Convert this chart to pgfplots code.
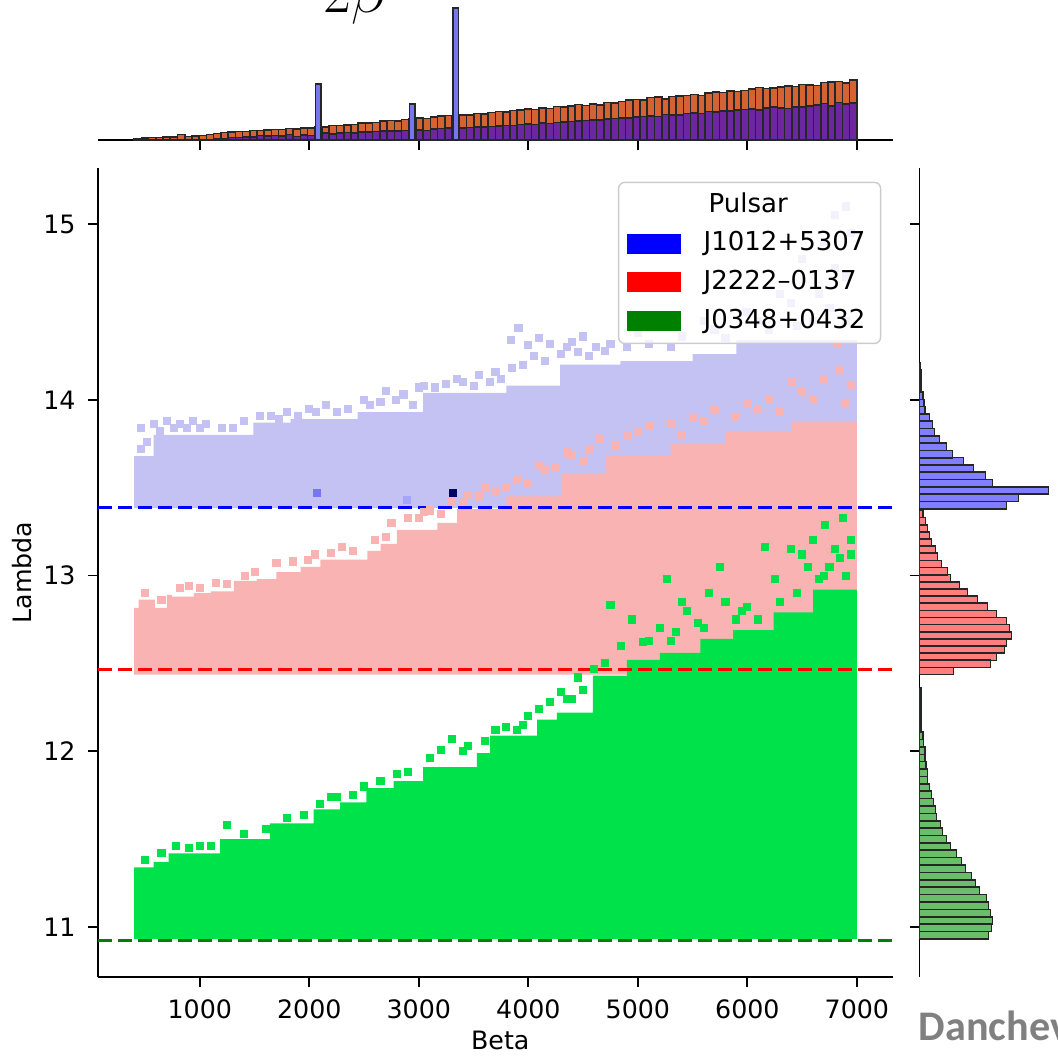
\documentclass[border=0pt]{standalone}
\usepackage{pgfplots}
\pgfplotsset{compat=1.18}
\usepackage{pgfplotstable}
\usepackage{fontspec}
\setmainfont{DejaVu Sans}
\newfontfamily\carlito{Carlito}
\definecolor{lav}{RGB}{196,194,242}
\definecolor{pinkr}{RGB}{249,179,179}
\definecolor{grn}{RGB}{0,226,74}
\definecolor{horange}{RGB}{212,98,50}
\definecolor{hpurple}{RGB}{108,38,160}
\definecolor{hblue}{RGB}{118,118,240}
\definecolor{rblue}{RGB}{127,127,255}
\definecolor{rred}{RGB}{255,127,127}
\definecolor{rgreen}{RGB}{106,190,106}
\definecolor{dgreen}{RGB}{0,128,0}

\pgfplotstableread{
x o p
433 1.5 0
499 2.2 0
565 2.5 0
631 2.5 0
697 3.0 0
763 3.2 0
829 5.5 0
895 3.5 0
961 3.8 0
1027 4.4 0
1093 5.5 0
1159 6.5 1.0
1225 7.6 1.5
1291 8.2 2.5
1357 8.4 2.6
1423 8.5 2.8
1489 9.3 3.0
1555 9.3 4.5
1621 10.0 4.0
1687 10.4 4.5
1753 10.6 4.0
1819 11.5 5.5
1885 11.0 3.5
1951 11.9 5.0
2017 12.2 4.5
2083 13.5 6.0
2149 13.0 7.0
2215 14.5 6.0
2281 14.4 6.8
2347 15.0 7.5
2413 15.6 7.0
2479 16.8 8.0
2545 17.0 8.0
2611 17.5 8.5
2677 18.8 9.0
2743 19.3 9.0
2809 19.0 9.2
2875 20.3 9.5
2941 21.0 10.0
3007 22.0 10.0
3073 21.5 9.5
3139 22.8 11.0
3205 23.8 11.5
3271 24.5 12.0
3337 23.0 11.0
3403 25.0 12.0
3469 25.0 12.5
3535 26.3 13.0
3601 26.0 13.0
3667 27.5 13.5
3733 28.4 14.0
3799 28.0 14.5
3865 29.5 14.5
3931 30.0 15.5
3997 31.0 16.0
4063 30.5 15.5
4129 32.0 17.0
4195 31.5 16.5
4261 33.5 17.5
4327 33.0 18.0
4393 34.0 18.5
4459 35.5 19.0
4525 34.5 19.5
4591 36.0 20.0
4657 35.0 20.0
4723 37.5 21.0
4789 37.0 21.5
4855 38.5 22.0
4921 39.8 22.0
4987 40.5 23.0
5053 40.0 23.5
5119 42.5 24.0
5185 43.0 23.5
5251 41.0 25.5
5317 43.5 25.0
5383 44.0 25.0
5449 44.5 26.5
5515 45.5 27.0
5581 44.5 26.5
5647 47.0 28.5
5713 48.0 28.0
5779 47.5 29.0
5845 49.0 29.0
5911 48.5 30.0
5977 49.5 30.5
6043 51.0 31.0
6109 52.5 30.0
6175 51.5 32.0
6241 52.0 33.0
6307 53.0 32.0
6373 54.0 31.5
6439 53.5 33.0
6505 55.5 33.0
6571 55.0 34.0
6637 54.5 35.0
6703 57.5 36.5
6769 58.0 34.0
6835 58.5 37.5
6901 57.0 36.0
6967 60.0 37.0
}\tophist

\begin{document}
\begin{tikzpicture}[x=1mm,y=1mm]
\useasboundingbox (0,0) rectangle (105.7,106);

% ---------------- main joint axis ----------------
\begin{axis}[
  at={(9.8mm,8.3mm)}, anchor=south west, scale only axis,
  width=79.5mm, height=80.9mm,
  xmin=70, xmax=7330, ymin=10.716, ymax=15.319,
  axis x line*=bottom, axis y line*=left,
  axis line style={-, line width=0.5pt},
  tick align=outside, major tick length=1mm,
  tick style={line width=0.5pt, black},
  xtick={1000,2000,...,7000}, ytick={11,12,...,15},
  font=\fontsize{7.2}{8.5}\selectfont,
  /pgf/number format/assume math mode=true,
  /pgf/number format/1000 sep={},
  xlabel={Beta}, ylabel={Lambda},
  xlabel style={at={(axis description cs:0.506,-0.078)}, anchor=center},
  ylabel style={at={(axis description cs:-0.0956,0.5)}, anchor=center},
  legend style={at={(0.654,0.983)}, anchor=north west, draw=black!20,
    rounded corners=0.6mm, fill=white, fill opacity=0.8, text opacity=1,
    font=\fontsize{7.4}{8.5}\selectfont, inner xsep=0.8mm, inner ysep=0.3mm,
    row sep=0pt, /tikz/column sep=1.6mm, cells={anchor=west}},
  legend image code/.code={\fill[#1, draw=none, sharp corners, fill opacity=1] (0mm,-1mm) rectangle (5.4mm,1mm);},
]
% lavender region (J1012+5307)
\addplot[const plot, fill=lav, draw=none, forget plot] coordinates {
 (400,13.385) (400,13.68) (577,13.80) (1490,13.87) (1830,13.89) (2440,13.93)
 (3040,14.04) (3800,14.08) (4290,14.2) (4840,14.22) (5500,14.26) (5900,14.34)
 (7000,14.34) (7000,13.385)};
\addplot[only marks, mark=square*, mark size=0.95pt, color=lav, forget plot] coordinates {
 (460,13.84) (580,13.86) (640,13.82) (700,13.88) (760,13.84) (820,13.86) (880,13.84)
 (940,13.88) (1000,13.84) (1060,13.86) (1550,13.91) (1650,13.91) (1720,13.89)
 (2000,13.95) (2060,13.93) (2150,13.97) (2550,13.97) (2790,14.0) (2860,14.03)
 (2950,13.97) (3150,14.07) (3250,14.09) (3400,14.1) (3500,14.08) (3650,14.1)
 (3750,14.12) (3910,14.41) (3840,14.34) (3950,14.2) (4050,14.25) (4150,14.22)
 (4200,14.32) (4350,14.3) (4450,14.27) (4500,14.36) (4620,14.3) (4700,14.28)
 (5000,14.38) (5600,14.45) (6000,14.5) (6300,14.6) (6500,14.8) (6700,14.9)
 (6800,15.05) (6900,15.1) (6900,14.7) (6600,14.45)
 (460,13.72) (520,13.76) (1200,13.84) (1300,13.84) (1400,13.88) (1800,13.93)
 (1900,13.91) (2250,13.93) (2350,13.95) (2500,14.0) (2650,13.99) (2700,14.05)
 (3000,14.07) (3050,14.08) (3350,14.12) (3550,14.14) (3700,14.16) (3850,14.18)
 (4000,14.31) (4100,14.35) (4300,14.26) (4400,14.33) (4550,14.25) (4750,14.32)
 (4900,14.3) (5100,14.32) (5300,14.3) (5400,14.36) (5700,14.4) (5800,14.35)
 (6100,14.45) (6200,14.4) (6400,14.55) (6450,14.42) (6650,14.6) (6750,14.52)
 (6900,14.45) (6950,14.95) (6800,14.75)};
% pink region (J2222-0137)
\addplot[const plot, fill=pinkr, draw=none, forget plot] coordinates {
 (400,12.437) (400,12.816) (440,12.863) (590,12.816) (700,12.89) (745,12.88)
 (945,12.90) (1100,12.91) (1310,12.97) (1520,12.98) (1700,13.02) (1920,13.05)
 (2100,13.09) (2530,13.14) (2650,13.18) (2800,13.26) (3170,13.30) (3350,13.38)
 (3800,13.45) (4300,13.58) (4700,13.68) (5300,13.75) (5800,13.82) (6400,13.88)
 (7000,13.88) (7000,12.437)};
\addplot[only marks, mark=square*, mark size=0.95pt, color=pinkr, forget plot] coordinates {
 (820,12.93) (1000,12.93) (1250,12.95) (1410,13.0) (1700,13.07) (1990,13.09)
 (2200,13.13) (2400,13.14) (2700,13.22) (2900,13.33) (3000,13.33) (3100,13.37)
 (3200,13.35) (3400,13.42) (3450,13.46) (3600,13.5) (3700,13.48) (3900,13.55)
 (4000,13.52) (4150,13.6) (4250,13.62) (4400,13.68) (4550,13.72) (4650,13.78)
 (4900,13.8) (5100,13.85) (5300,13.86) (5500,13.9) (5700,13.95) (6000,13.98)
 (6200,14.0) (6500,14.05) (6700,14.12) (6850,14.17) (6950,14.08) (6820,14.32)
 (500,12.9) (650,12.86) (900,12.94) (1150,12.96) (1500,13.02) (1850,13.08)
 (2050,13.12) (2300,13.16) (2600,13.2) (2750,13.3) (3050,13.36) (3300,13.42)
 (3550,13.45) (3800,13.5) (4100,13.63) (4350,13.7) (4500,13.65) (4800,13.74)
 (5000,13.82) (5400,13.8) (5600,13.88) (5900,13.9) (6100,13.95) (6300,13.93)
 (6600,14.0) (6900,13.98) (6400,14.1)};
% green region (J0348+0432)
\addplot[const plot, fill=grn, draw=none, forget plot] coordinates {
 (400,10.933) (400,11.34) (577,11.37) (715,11.42) (1185,11.50) (1640,11.59)
 (2040,11.67) (2280,11.71) (2520,11.79) (2770,11.83) (3040,11.91) (3530,11.99)
 (3650,12.09) (4080,12.18) (4260,12.22) (4590,12.43) (4900,12.52) (5200,12.56)
 (5570,12.64) (5870,12.69) (6240,12.79) (6600,12.92) (7000,12.92) (7000,10.933)};
\addplot[only marks, mark=square*, mark size=0.95pt, color=grn, forget plot] coordinates {
 (780,11.46) (1000,11.46) (1250,11.58) (2100,11.70) (2250,11.74) (2400,11.75)
 (2650,11.83) (2800,11.87) (3100,11.96) (3200,12.01) (3300,12.07) (3450,12.03)
 (3600,12.06) (3800,12.14) (3950,12.15) (4100,12.24) (4200,12.28) (4350,12.3)
 (4500,12.35) (4700,12.5) (4750,12.83) (4850,12.6) (4950,12.75) (5100,12.63)
 (5200,12.7) (5270,12.98) (5400,12.85) (5450,12.8) (5550,12.73) (5650,12.9)
 (5750,13.05) (5800,12.85) (5950,12.8) (6100,12.75) (6160,13.16) (6250,12.98)
 (6400,13.15) (6500,13.12) (6550,13.05) (6700,13.0) (6710,13.29) (6800,13.15)
 (6850,13.1) (6950,13.12) (6870,13.33) (6600,13.2)
 (500,11.38) (650,11.42) (900,11.45) (1100,11.46) (1400,11.53) (1600,11.56)
 (1800,11.62) (1950,11.64) (2200,11.74) (2500,11.8) (2900,11.88) (3400,12.0)
 (3700,12.12) (3900,12.12) (4000,12.2) (4300,12.34) (4400,12.3) (4450,12.42)
 (4600,12.47) (5050,12.62) (5300,12.63) (5350,12.68) (5600,12.7) (5900,12.75)
 (6000,12.82) (6300,12.85) (6450,12.9) (6650,12.98) (6750,13.05) (6900,13.0)
 (6950,13.2)};
% a few darker cells
\addplot[only marks, mark=square*, mark size=0.95pt, color=hblue, forget plot] coordinates {(2070,13.47)};
\addplot[only marks, mark=square*, mark size=0.95pt, color=rblue!70, forget plot] coordinates {(2890,13.43)};
\addplot[only marks, mark=square*, mark size=0.95pt, color=blue!40!black, forget plot] coordinates {(3310,13.47)};
% reference lines
\addplot[blue, line width=0.85pt, dash pattern=on 1.4mm off 0.6mm, forget plot] coordinates {(70,13.385) (7330,13.385)};
\addplot[red, line width=0.85pt, dash pattern=on 1.4mm off 0.6mm, forget plot] coordinates {(70,12.465) (7330,12.465)};
\addplot[dgreen, line width=0.85pt, dash pattern=on 1.4mm off 0.6mm, forget plot] coordinates {(70,10.925) (7330,10.925)};
% legend
\addlegendimage{empty legend}
\addlegendentry{\hspace{0.5mm}Pulsar}
\addlegendimage{fill=blue}
\addlegendentry{J1012+5307}
\addlegendimage{fill=red}
\addlegendentry{J2222--0137}
\addlegendimage{fill=dgreen}
\addlegendentry{J0348+0432}
\end{axis}

% ---------------- top marginal histogram ----------------
\begin{axis}[
  at={(9.8mm,92mm)}, anchor=south west, scale only axis,
  width=79.5mm, height=13.86mm,
  xmin=70, xmax=7330, ymin=0, ymax=138.6,
  axis x line*=bottom, hide y axis,
  axis line style={-, line width=0.5pt},
  tick align=outside, major tick length=1mm,
  tick style={line width=0.5pt, black},
  xtick={1000,2000,...,7000}, xticklabels={},
  clip=false,
]
\addplot[ybar, bar width=66, bar shift=0pt, fill=horange, draw=black!85, line width=0.45pt] table[x=x, y=o] {\tophist};
\addplot[ybar, bar width=66, bar shift=0pt, fill=hpurple, draw=black!85, line width=0.45pt] table[x=x, y=p] {\tophist};
\addplot[ybar, bar width=50, bar shift=0pt, fill=hblue, draw=black!85, line width=0.45pt] coordinates {(2083,56) (2941,36) (3337,132)};
\end{axis}

% ---------------- right marginal histogram ----------------
\begin{axis}[
  at={(91.95mm,8.3mm)}, anchor=south west, scale only axis,
  width=15.6mm, height=80.9mm,
  xmin=0, xmax=156, ymin=10.716, ymax=15.319,
  axis y line*=left, hide x axis,
  axis line style={-, line width=0.5pt},
  tick align=outside, major tick length=1mm,
  tick style={line width=0.5pt, black},
  ytick={11,12,...,15}, yticklabels={},
]
\addplot[xbar, bar width=0.0415, bar shift=0pt, fill=rblue, draw=black!85, line width=0.45pt] coordinates {
 (87,13.401) (99,13.442) (129,13.484) (73,13.525) (66,13.567) (54,13.608) (44,13.650)
 (33,13.691) (27,13.733) (20,13.774) (15,13.816) (13,13.857) (10,13.899) (5.7,13.940)
 (4.7,13.982) (3.3,14.023) (1.5,14.065) (1.5,14.106) (1.2,14.148) (1.0,14.189)};
\addplot[xbar, bar width=0.0406, bar shift=0pt, fill=rred, draw=black!85, line width=0.45pt] coordinates {
 (34,12.457) (71,12.498) (77,12.538) (85,12.579) (87,12.619) (92,12.660) (90,12.701)
 (87,12.741) (77,12.782) (68,12.822) (58,12.863) (48,12.904) (40,12.944) (31,12.985)
 (28,13.025) (22,13.066) (18,13.107) (16,13.147) (12,13.188) (10,13.228) (8,13.269)
 (6,13.310) (3.3,13.350)};
\addplot[xbar, bar width=0.042, bar shift=0pt, fill=rgreen, draw=black!85, line width=0.45pt] coordinates {
 (69,10.954) (72,10.996) (73,11.038) (71,11.080) (69,11.122) (67,11.164) (60,11.206)
 (56,11.248) (52,11.290) (46,11.332) (42,11.374) (37,11.416) (31,11.458) (27,11.500)
 (23,11.542) (21,11.584) (17,11.626) (16,11.668) (14,11.710) (12,11.752) (10,11.794)
 (8,11.836) (8,11.878) (6.7,11.920) (5.7,11.962) (5.7,12.004) (4,12.046) (3.3,12.088)
 (1.5,12.130) (1.5,12.172) (1.5,12.214) (1.5,12.256) (1.5,12.298) (1.5,12.340)};
\end{axis}

% ---------------- cropped texts (cut by the frame, as in the reference) ----------------
\node[anchor=base west, inner sep=0pt, text=black!50, font=\carlito\bfseries\fontsize{12}{14}\selectfont] at (91.8,1.9) {Danchev};
\node[anchor=base west, inner sep=0pt, font=\fontsize{17}{20}\selectfont] at (32.3,104.7) {$2\beta$};
\end{tikzpicture}
\end{document}
